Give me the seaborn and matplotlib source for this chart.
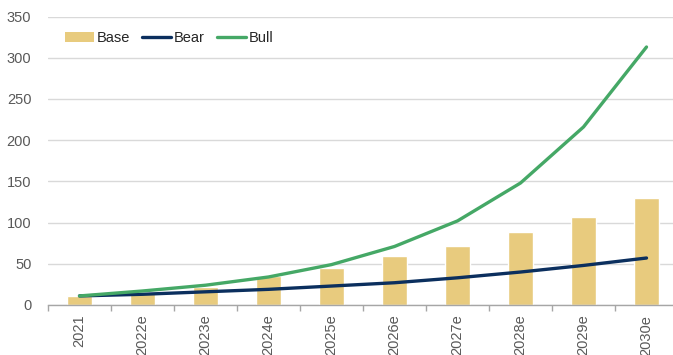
import numpy as np
import pandas as pd
import matplotlib
matplotlib.use("Agg")
import matplotlib.pyplot as plt
import seaborn as sns
from matplotlib.patches import Patch
from matplotlib.lines import Line2D

# Scenario values per year
years = ["2021", "2022e", "2023e", "2024e", "2025e", "2026e", "2027e", "2028e", "2029e", "2030e"]
base = [11, 14, 22, 35, 45, 59, 72, 88, 107, 130]
bear = [11, 13, 16, 19, 23, 27, 33, 40, 48, 57]
bull = [11, 17, 24, 34, 49, 71, 102, 148, 216, 313]
y_ticks = [0, 50, 100, 150, 200, 250, 300, 350]

BASE_C = "#E8CB7E"
BEAR_C = "#0B2F5E"
BULL_C = "#45A866"
GRID_C = "#D9D9D9"
TEXT_C = "#595959"

sns.set_theme(style="white")
plt.rcParams["font.family"] = ["Liberation Sans", "DejaVu Sans"]

df = pd.DataFrame({"year": years, "Base": base, "Bear": bear, "Bull": bull})
df["pos"] = np.arange(len(years))

fig = plt.figure(figsize=(6.73, 3.55), dpi=100)
ax = fig.add_axes([48 / 673, 50 / 355, 630 / 673, 288.5 / 355])

sns.barplot(data=df, x="year", y="Base", color=BASE_C, width=0.4,
            saturation=1, ax=ax, zorder=2)
sns.lineplot(data=df, x="pos", y="Bear", color=BEAR_C, linewidth=2.4,
             ax=ax, zorder=3, solid_capstyle="round")
sns.lineplot(data=df, x="pos", y="Bull", color=BULL_C, linewidth=2.4,
             ax=ax, zorder=4, solid_capstyle="round")

ax.set_xlim(-0.5, len(years) - 0.5)
ax.set_ylim(0, 350)
ax.set_yticks(y_ticks)
ax.set_xticks(df["pos"])
ax.set_xticklabels(years, rotation=90)
ax.set_xticks(np.arange(len(years) + 1) - 0.5, minor=True)
ax.tick_params(axis="x", which="major", length=0, pad=7, labelsize=10.5, labelcolor=TEXT_C)
ax.tick_params(axis="x", which="minor", length=4, width=1, color="#A6A6A6", bottom=True)
ax.tick_params(axis="y", length=0, pad=12, labelsize=10.5, labelcolor=TEXT_C)
ax.set_xlabel("")
ax.set_ylabel("")

ax.grid(axis="y", color=GRID_C, linewidth=1, zorder=0)
ax.set_axisbelow(True)
for side in ["top", "right", "left"]:
    ax.spines[side].set_visible(False)
ax.spines["bottom"].set_color("#A6A6A6")
ax.spines["bottom"].set_linewidth(1)
ax.spines["bottom"].set_zorder(5)

handles = [
    Patch(facecolor=BASE_C, edgecolor="none"),
    Line2D([0], [0], color=BEAR_C, linewidth=2.4, solid_capstyle="round"),
    Line2D([0], [0], color=BULL_C, linewidth=2.4, solid_capstyle="round"),
]
ax.legend(handles, ["Base", "Bear", "Bull"], loc="upper left",
          bbox_to_anchor=(0.006, 0.995), ncol=3, frameon=False,
          fontsize=10.5, handlelength=2.0, handletextpad=0.2,
          columnspacing=0.8, labelcolor="#262626")

fig.savefig("out.png", dpi=100)
